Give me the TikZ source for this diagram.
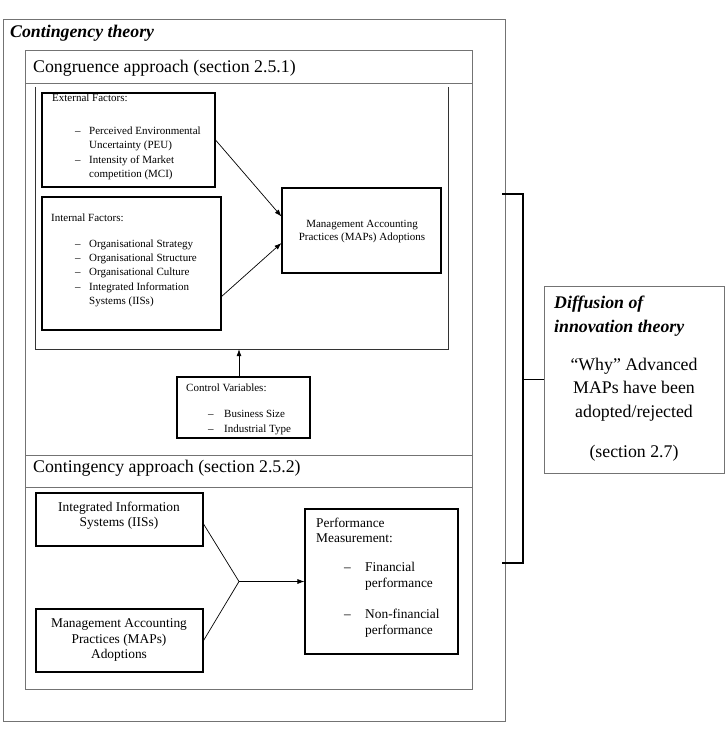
\documentclass[tikz,border=0pt]{standalone}
\usepackage{fontspec}
\setmainfont{Liberation Serif}
\usetikzlibrary{arrows.meta}
\begin{document}
\begin{tikzpicture}[x=1pt,y=-1pt,
  frame/.style={draw=black!55,line width=0.9pt},
  blackbox/.style={draw=black,line width=1.1pt,inner sep=0pt},
  arr/.style={draw=black,line width=0.7pt,-{Latex[length=7pt,width=5pt]}},
  conn/.style={draw=black,line width=0.7pt},
  brk/.style={draw=black,line width=1.1pt},
  sm/.style={inner sep=0pt,anchor=base west,font=\fontsize{11}{13}\selectfont},
  smc/.style={inner sep=0pt,anchor=base,font=\fontsize{11}{13}\selectfont},
  md/.style={inner sep=0pt,anchor=base west,font=\fontsize{13.4}{15}\selectfont},
  mdc/.style={inner sep=0pt,anchor=base,font=\fontsize{13.4}{15}\selectfont},
  hd/.style={inner sep=0pt,anchor=base west,font=\fontsize{17.8}{20}\selectfont},
  hdbi/.style={inner sep=0pt,anchor=base west,font=\fontsize{17.8}{20}\selectfont\bfseries\itshape},
  hdc/.style={inner sep=0pt,anchor=base,font=\fontsize{17.8}{20}\selectfont}]
\useasboundingbox (0,0) rectangle (725,729);
\fill[white] (0,0) rectangle (725,729);

% outer frame
\node[frame,minimum width=502pt,minimum height=702pt,inner sep=0pt] (outer) at (254,370) {};
\node[hdbi] (ctitle) at (10,37) {Contingency theory};

% congruence / contingency frame
\node[frame,minimum width=447pt,minimum height=639pt,inner sep=0pt] (cong) at (248.5,369.5) {};
\coordinate (sepA) at (25,83);
\coordinate (sepB) at (25,455);
\coordinate (sepC) at (25,487);
\draw[frame] (sepA) -- (sepA -| cong.east);
\draw[frame] (sepB) -- (sepB -| cong.east);
\draw[frame] (sepC) -- (sepC -| cong.east);
\node[hd] (conghd) at (33,72) {Congruence approach (section 2.5.1)};
\node[hd] (conthd) at (33,472) {Contingency approach (section 2.5.2)};

% inner frame (open at top)
\node[inner sep=0pt,minimum width=412pt,minimum height=262pt] (inner) at (242,218) {};
\draw[draw=black!80,line width=0.8pt] (inner.north west) -- (inner.south west) -- (inner.south east) -- (inner.north east);

% external factors
\node[blackbox,minimum width=173pt,minimum height=94pt] (ext) at (128.5,140) {};
\node[sm] (e0) at (52,101) {External Factors:};
\node[sm] (e1d) at (75,134) {–};
\node[sm] (e1) at (89,134) {Perceived Environmental};
\node[sm] (e2) at (89,148) {Uncertainty (PEU)};
\node[sm] (e3d) at (75,163) {–};
\node[sm] (e3) at (89,163) {Intensity of Market};
\node[sm] (e4) at (89,177) {competition (MCI)};

% internal factors
\node[blackbox,minimum width=179pt,minimum height=133pt] (int) at (131.5,263.5) {};
\node[sm] (i0) at (51,221) {Internal Factors:};
\node[sm] (i1d) at (75,247) {–};
\node[sm] (i1) at (89,247) {Organisational Strategy};
\node[sm] (i2d) at (75,261) {–};
\node[sm] (i2) at (89,261) {Organisational Structure};
\node[sm] (i3d) at (75,275) {–};
\node[sm] (i3) at (89,275) {Organisational Culture};
\node[sm] (i4d) at (75,290) {–};
\node[sm] (i4) at (89,290) {Integrated Information};
\node[sm] (i5) at (89,304) {Systems (IISs)};

% MAPs adoption
\node[blackbox,minimum width=159pt,minimum height=85pt] (maps) at (361.5,230.5) {};
\node[smc] (m1) at (362,227) {Management Accounting};
\node[smc] (m2) at (362,240) {Practices (MAPs) Adoptions};

\draw[arr] (ext.east) -- ([yshift=14pt]maps.west);
\draw[arr] ([yshift=-33pt]int.east) -- ([yshift=-12.5pt]maps.west);

% control variables
\node[blackbox,minimum width=133pt,minimum height=61pt] (ctrl) at (243.5,407.5) {};
\node[sm] (c0) at (186,391) {Control Variables:};
\node[sm] (c1d) at (208,417) {–};
\node[sm] (c1) at (224,417) {Business Size};
\node[sm] (c2d) at (208,432) {–};
\node[sm] (c2) at (224,432) {Industrial Type};
\draw[arr] ([xshift=-4.5pt]ctrl.north) -- ([xshift=-4.5pt]ctrl.north |- inner.south);

% contingency approach boxes
\node[blackbox,minimum width=167pt,minimum height=53pt] (iis) at (119.5,519.5) {};
\node[mdc] (s1) at (119,511.5) {Integrated Information};
\node[mdc] (s2) at (119,526.5) {Systems (IISs)};

\node[blackbox,minimum width=167pt,minimum height=63pt] (maps2) at (119.5,640.5) {};
\node[mdc] (n1) at (119,627.5) {Management Accounting};
\node[mdc] (n2) at (119,643) {Practices (MAPs)};
\node[mdc] (n3) at (119,658.5) {Adoptions};

\node[blackbox,minimum width=153pt,minimum height=145pt] (perf) at (381.5,581.5) {};
\node[md] (p1) at (316,527.5) {Performance};
\node[md] (p2) at (316,542.5) {Measurement:};
\node[md] (p3d) at (344,571.5) {–};
\node[md] (p3) at (365,571.5) {Financial};
\node[md] (p4) at (365,587.5) {performance};
\node[md] (p5d) at (344,618.5) {–};
\node[md] (p5) at (365,618.5) {Non-financial};
\node[md] (p6) at (365,634.5) {performance};

\coordinate (join) at (239,581.5);
\draw[conn] ([yshift=-4.5pt]iis.east) -- (join) -- (maps2.east);
\draw[arr] (join) -- (perf.west);

% diffusion of innovation theory
\node[frame,minimum width=180pt,minimum height=187pt,inner sep=0pt] (diff) at (634,379.5) {};
\node[hdbi] (d1) at (554,308) {Diffusion of};
\node[hdbi] (d2) at (554,332) {innovation theory};
\node[hdc] (d3) at (634,370) {“Why” Advanced};
\node[hdc] (d4) at (634,393) {MAPs have been};
\node[hdc] (d5) at (634,417) {adopted/rejected};
\node[hdc] (d6) at (634,457) {(section 2.7)};

% bracket
\coordinate (bt) at (502,194);
\coordinate (bb) at (502,563);
\coordinate (bx) at (523,379.5);
\draw[brk] (bt) -| (bx) |- (bb);
\draw[brk] (bx) -- (diff.west);
\end{tikzpicture}
\end{document}
